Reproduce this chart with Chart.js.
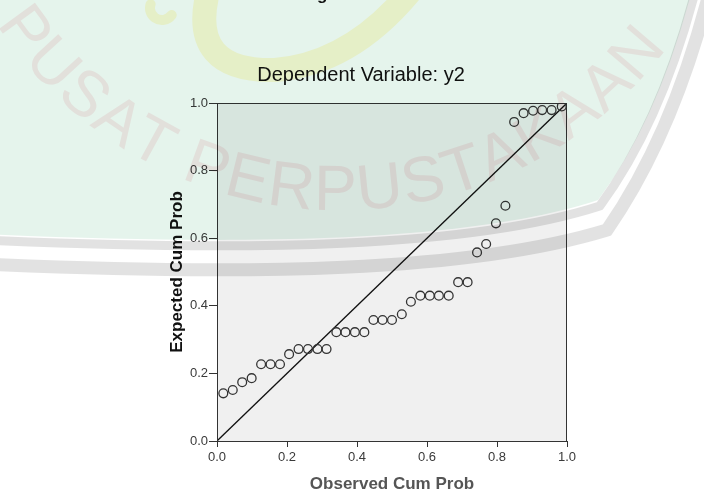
<!DOCTYPE html>
<html lang="en">
<head>
    <meta charset="UTF-8">
    <title>Normal P-P Plot</title>
    <script src="https://cdn.jsdelivr.net/npm/chart.js"></script>
    <style>
        html, body { margin: 0; padding: 0; background: #ffffff; overflow: hidden; }
        canvas { display: block; }
    </style>
</head>
<body>
    <canvas id="ppChart" width="704" height="495"></canvas>

    <script>
        // Datos
        const observedCumProb = [0.018, 0.045, 0.072, 0.099, 0.126, 0.153, 0.180, 0.206, 0.233, 0.260,
                                 0.287, 0.313, 0.341, 0.367, 0.394, 0.421, 0.447, 0.473, 0.500, 0.528,
                                 0.554, 0.581, 0.608, 0.634, 0.662, 0.689, 0.716, 0.743, 0.769, 0.797,
                                 0.824, 0.849, 0.876, 0.903, 0.929, 0.956, 0.985];
        const expectedCumProb = [0.141, 0.151, 0.174, 0.186, 0.227, 0.227, 0.227, 0.257, 0.272, 0.272,
                                 0.272, 0.272, 0.322, 0.322, 0.322, 0.322, 0.358, 0.358, 0.358, 0.375,
                                 0.412, 0.430, 0.430, 0.430, 0.430, 0.470, 0.470, 0.558, 0.583, 0.644,
                                 0.696, 0.944, 0.970, 0.977, 0.979, 0.979, 0.990];
        const refLineX = [0, 1];
        const refLineY = [0, 1];
        const tickValues = [0.0, 0.2, 0.4, 0.6, 0.8, 1.0];

        const mainTitle = 'Normal P-P Plot of Regression Standardized Residual';
        const subTitle = 'Dependent Variable: y2';

        const points = observedCumProb.map((x, i) => ({ x: x, y: expectedCumProb[i] }));
        const line = refLineX.map((x, i) => ({ x: x, y: refLineY[i] }));

        // fondo del area de grafico + borde superior/derecho
        const plotFrame = {
            id: 'plotFrame',
            beforeDraw(chart) {
                const { ctx, chartArea: a } = chart;
                ctx.save();
                ctx.fillStyle = '#ffffff';
                ctx.fillRect(0, 0, chart.width, chart.height);
                ctx.fillStyle = '#f0f0f0';
                ctx.fillRect(a.left, a.top, a.right - a.left, a.bottom - a.top);
                ctx.restore();
            },
            afterDatasetsDraw(chart) {
                const { ctx, chartArea: a } = chart;
                ctx.save();
                ctx.strokeStyle = '#333333';
                ctx.lineWidth = 1;
                ctx.strokeRect(a.left + 0.5, a.top + 0.5, a.right - a.left - 1, a.bottom - a.top);
                ctx.restore();
            }
        };

        // titulos
        const titles = {
            id: 'titles',
            afterDraw(chart) {
                const ctx = chart.ctx;
                ctx.save();
                ctx.fillStyle = '#111111';
                ctx.textAlign = 'center';
                ctx.textBaseline = 'alphabetic';
                ctx.font = 'bold 17px "Liberation Sans", Arial, sans-serif';
                ctx.fillText(mainTitle, 358, 0);
                ctx.font = '20px "Liberation Sans", Arial, sans-serif';
                ctx.fillText(subTitle, 361, 81);
                ctx.restore();
            }
        };

        // marca de agua (escudo verde, bandas grises, texto rosa)
        function shieldEdge(ctx, dy, join) {
            if (join) ctx.lineTo(-20, 234 + dy); else ctx.moveTo(-20, 234 + dy);
            ctx.bezierCurveTo(250, 246 + dy, 470, 242 + dy, 598 + dy * 0.3, 200 + dy);
            ctx.quadraticCurveTo(658 + dy * 0.5, 120 + dy * 0.5, 692 + dy * 0.6, -10);
        }
        const watermark = {
            id: 'watermark',
            afterDraw(chart) {
                const ctx = chart.ctx;
                ctx.save();
                ctx.globalCompositeOperation = 'multiply';

                ctx.beginPath();
                ctx.moveTo(-20, -10);
                shieldEdge(ctx, 0, true);
                ctx.closePath();
                ctx.fillStyle = 'rgb(229,244,236)';
                ctx.fill();

                ctx.strokeStyle = 'rgb(226,226,226)';
                ctx.lineWidth = 9;
                ctx.beginPath();
                shieldEdge(ctx, 6, false);
                ctx.stroke();
                ctx.lineWidth = 13;
                ctx.beginPath();
                shieldEdge(ctx, 30, false);
                ctx.stroke();

                // trazo amarillo
                ctx.strokeStyle = 'rgb(255,250,215)';
                ctx.lineCap = 'round';
                ctx.lineWidth = 24;
                ctx.beginPath();
                ctx.moveTo(208, -8);
                ctx.quadraticCurveTo(188, 72, 275, 70);
                ctx.quadraticCurveTo(350, 64, 410, -8);
                ctx.stroke();
                ctx.lineWidth = 10;
                ctx.beginPath();
                ctx.arc(162, 8, 12, 0.2 * Math.PI, 1.1 * Math.PI);
                ctx.stroke();

                // texto en arco
                const txt = 'PUSAT PERPUSTAKAAN';
                const cx = 340, cy = -200, r = 410;
                ctx.font = '64px "Liberation Sans", Arial, sans-serif';
                ctx.fillStyle = 'rgb(252,234,237)';
                ctx.textAlign = 'center';
                ctx.textBaseline = 'alphabetic';
                let ang = 147 * Math.PI / 180;
                for (const ch of txt) {
                    const w = ctx.measureText(ch).width + 2;
                    const da = w / r;
                    ang -= da / 2;
                    ctx.save();
                    ctx.translate(cx + r * Math.cos(ang), cy + r * Math.sin(ang));
                    ctx.rotate(ang - Math.PI / 2);
                    ctx.fillText(ch, 0, 0);
                    ctx.restore();
                    ang -= da / 2;
                }
                ctx.restore();
            }
        };

        const tickFont = { family: '"Liberation Sans", Arial, sans-serif', size: 13 };
        const titleFont = { family: '"Liberation Sans", Arial, sans-serif', size: 17, weight: 'bold' };

        new Chart(document.getElementById('ppChart'), {
            type: 'scatter',
            data: {
                datasets: [
                    {
                        label: 'Observed',
                        data: points,
                        pointStyle: 'circle',
                        pointRadius: 4.4,
                        pointBorderWidth: 1.3,
                        borderColor: '#333333',
                        backgroundColor: 'rgba(0,0,0,0)'
                    },
                    {
                        label: 'Reference',
                        type: 'line',
                        data: line,
                        borderColor: '#111111',
                        borderWidth: 1.3,
                        pointRadius: 0,
                        fill: false
                    }
                ]
            },
            options: {
                responsive: false,
                animation: false,
                devicePixelRatio: 1,
                layout: { padding: { left: 160, right: 137, top: 103, bottom: 0 } },
                plugins: {
                    legend: { display: false },
                    tooltip: { enabled: false },
                    title: { display: false }
                },
                scales: {
                    x: {
                        type: 'linear',
                        min: 0,
                        max: 1,
                        afterFit: s => { s.height = 54; },
                        afterBuildTicks: s => { s.ticks = tickValues.map(v => ({ value: v })); },
                        ticks: {
                            callback: v => v.toFixed(1),
                            font: tickFont,
                            color: '#3a3a3a',
                            padding: 3,
                            maxRotation: 0
                        },
                        grid: { drawOnChartArea: false, tickLength: 6, color: '#333333' },
                        border: { display: true, color: '#333333', width: 1 },
                        title: {
                            display: true,
                            text: 'Observed Cum Prob',
                            font: titleFont,
                            color: '#555555',
                            padding: { top: 0, bottom: 0 }
                        }
                    },
                    y: {
                        type: 'linear',
                        min: 0,
                        max: 1,
                        afterFit: s => { s.width = 57; },
                        afterBuildTicks: s => { s.ticks = tickValues.map(v => ({ value: v })); },
                        ticks: {
                            callback: v => v.toFixed(1),
                            font: tickFont,
                            color: '#3a3a3a',
                            padding: 1
                        },
                        grid: { drawOnChartArea: false, tickLength: 8, color: '#333333' },
                        border: { display: true, color: '#333333', width: 1 },
                        title: {
                            display: true,
                            text: 'Expected Cum Prob',
                            font: titleFont,
                            color: '#111111',
                            padding: { top: 7, bottom: 0 }
                        }
                    }
                }
            },
            plugins: [plotFrame, titles, watermark]
        });
    </script>
</body>
</html>
